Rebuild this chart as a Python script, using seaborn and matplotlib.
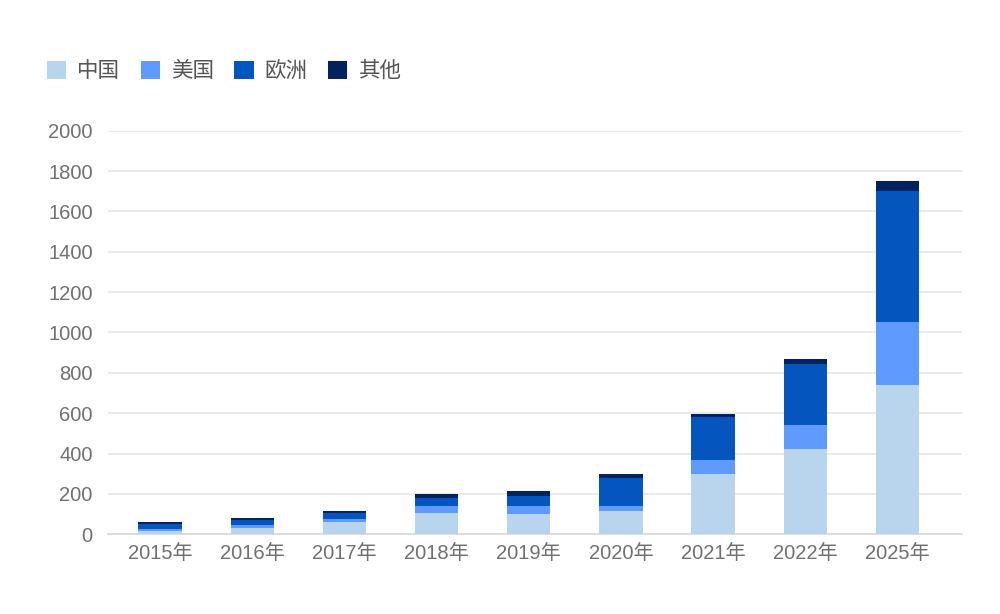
import matplotlib
matplotlib.use("Agg")
import matplotlib.pyplot as plt
import seaborn as sns
import pandas as pd
import numpy as np
from matplotlib.patches import Patch

years = ["2015年", "2016年", "2017年", "2018年", "2019年", "2020年", "2021年", "2022年", "2025年"]
china = [15, 33, 58, 104, 99, 116, 299, 420, 740]
usa = [9, 13, 18, 35, 40, 26, 69, 120, 310]
europe = [24, 25, 28, 38, 50, 139, 212, 305, 650]
other = [10, 8, 11, 23, 23, 15, 15, 22, 50]
series_names = ["中国", "美国", "欧洲", "其他"]
colors = ["#b9d5ee", "#5f9bff", "#0455be", "#02215f"]

sns.set_theme(style="white")
plt.rcParams["font.family"] = ["Liberation Sans", "Noto Sans CJK SC", "DejaVu Sans"]

df = pd.DataFrame({"year": years, "中国": china, "美国": usa, "欧洲": europe, "其他": other})
cum = df[series_names].cumsum(axis=1)

fig = plt.figure(figsize=(10, 6.14), dpi=100)
ax = fig.add_axes([0.108, 0.130, 0.854, 0.657])

for name, col in reversed(list(zip(series_names, colors))):
    d = pd.DataFrame({"year": years, "v": cum[name]})
    sns.barplot(data=d, x="year", y="v", color=col, width=0.47, ax=ax,
                saturation=1, linewidth=0, zorder=3)

ax.set_ylim(0, 2000)
ax.set_yticks(range(0, 2001, 200))
ax.set_xlim(-0.565, 8.7)
ax.grid(axis="y", color="#e6e6e6", linewidth=1.2, zorder=0)
ax.set_axisbelow(True)
for s in ["top", "right", "left"]:
    ax.spines[s].set_visible(False)
ax.spines["bottom"].set_color("#d9d9d9")
ax.spines["bottom"].set_linewidth(1.2)
ax.set_xlabel("")
ax.set_ylabel("")
ax.tick_params(axis="both", length=0, labelsize=14.5, colors="#707070")
ax.tick_params(axis="y", pad=11)
ax.tick_params(axis="x", pad=7)

handles = [Patch(facecolor=c, edgecolor="none") for c in colors]
fig.legend(handles, series_names, loc="center left", bbox_to_anchor=(0.047, 0.884),
           ncol=4, frameon=False, handlelength=0.9, handleheight=0.9,
           columnspacing=0.95, handletextpad=0.5, borderpad=0, borderaxespad=0,
           labelcolor="#555555", prop={"family": ["Noto Sans CJK SC", "DejaVu Sans"], "size": 15.5})

fig.savefig("out.png", dpi=100)
